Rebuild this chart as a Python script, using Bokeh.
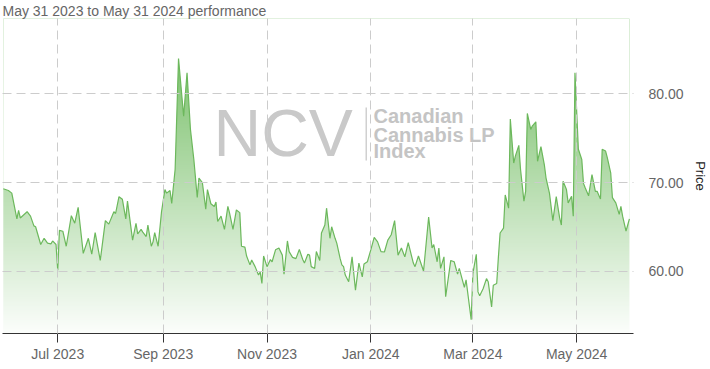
import numpy as np
import pandas as pd
from bokeh.plotting import figure
from bokeh.models import (Range1d, FixedTicker, Label, PrintfTickFormatter,
                          BoxAnnotation, DatetimeTickFormatter)
from bokeh.embed import file_html
from bokeh.resources import INLINE

# ---------------- data ----------------
base_date = "2023-05-31"
day_offsets = [
    -1, 2, 4, 7, 8, 9, 13, 15, 17, 18,
    21, 23, 25, 27, 28, 30, 31, 32, 34, 36,
    39, 41, 43, 46, 49, 51, 53, 56, 59, 61,
    64, 65, 67, 69, 71, 72, 75, 77, 78, 80,
    81, 83, 84, 86, 87, 88, 90, 92, 94, 95,
    97, 98, 100, 102, 105, 107, 109, 111, 113, 114,
    116, 118, 119, 121, 123, 124, 125, 127, 129, 131,
    132, 134, 136, 138, 139, 141, 142, 144, 145, 147,
    149, 150, 151, 152, 154, 156, 157, 159, 161, 163,
    164, 166, 167, 169, 171, 173, 175, 176, 178, 179,
    180, 182, 183, 185, 186, 188, 189, 191, 192, 194,
    195, 197, 198, 199, 200, 202, 204, 206, 208, 210,
    211, 213, 215, 217, 219, 221, 223, 225, 227, 229,
    231, 233, 235, 237, 240, 241, 243, 246, 249, 251,
    252, 254, 255, 256, 258, 259, 262, 264, 266, 267,
    270, 271, 274, 275, 277, 278, 279, 281, 283, 284,
    286, 287, 289, 290, 291, 293, 294, 296, 297, 299,
    300, 302, 303, 305, 306, 307, 309, 310, 312, 313,
    315, 317, 318, 320, 322, 324, 326, 327, 328, 330,
    331, 333, 334, 335, 337, 339, 340, 341, 343, 345,
    347, 348, 350, 351, 353, 354, 356, 357, 359, 361,
    362, 363, 365, 366, 367,
]
prices = [
    69.3, 69.1, 68.8, 65.9, 66.85, 66.0, 66.7, 66.2, 65.1, 65.0,
    63.0, 63.7, 63.15, 63.07, 63.4, 63.0, 60.1, 64.6, 64.5, 62.8,
    66.25, 65.4, 67.2, 62.0, 63.7, 61.9, 64.35, 61.2, 65.7, 65.3,
    66.7, 66.5, 68.4, 68.1, 65.9, 67.9, 63.5, 65.4, 64.2, 64.7,
    64.4, 63.9, 65.2, 62.8, 63.3, 64.35, 62.8, 66.7, 69.2, 68.8,
    69.1, 67.65, 71.5, 84.0, 77.5, 82.4, 76.0, 72.6, 68.3, 70.5,
    70.0, 67.0, 69.2, 67.6, 67.3, 67.8, 65.6, 66.2, 64.7, 67.3,
    66.55, 64.7, 66.9, 66.6, 62.8, 62.7, 61.7, 60.7, 61.25, 60.5,
    59.55, 59.9, 58.6, 61.7, 60.5, 61.3, 61.05, 62.4, 62.6, 61.8,
    59.66, 63.4, 62.2, 61.55, 61.4, 62.45, 61.3, 60.9, 61.9, 61.8,
    60.5, 60.3, 62.2, 61.2, 64.3, 65.2, 67.1, 63.7, 65.0, 63.7,
    63.15, 61.4, 60.7, 60.5, 59.55, 58.8, 61.6, 57.85, 60.9, 59.35,
    60.8, 61.05, 62.4, 63.8, 63.3, 62.2, 62.15, 63.5, 64.1, 65.7,
    61.8, 62.6, 61.6, 63.2, 60.9, 60.5, 61.7, 60.0, 66.1, 62.6,
    63.0, 61.05, 62.6, 60.3, 61.6, 57.1, 61.2, 61.05, 59.66, 60.3,
    58.15, 59.0, 54.5, 59.75, 61.9, 57.65, 57.2, 58.0, 59.15, 58.8,
    55.95, 58.4, 58.6, 61.6, 64.3, 64.85, 68.6, 67.1, 77.16, 72.2,
    73.0, 74.2, 71.5, 67.9, 69.0, 77.8, 76.0, 76.4, 76.85, 72.4,
    74.05, 72.0, 70.5, 68.8, 65.7, 68.4, 66.0, 65.2, 70.15, 69.2,
    67.7, 68.45, 66.2, 82.4, 73.75, 72.6, 69.9, 69.4, 68.5, 70.9,
    69.0, 69.0, 68.15, 73.75, 73.55, 72.8, 71.1, 68.3, 67.7, 66.4,
    67.3, 66.2, 64.5, 65.2, 65.9,
]
x_tick_dates = ["2023-07-01", "2023-09-01", "2023-11-01",
                "2024-01-01", "2024-03-01", "2024-05-01"]
x_tick_labels = ["Jul 2023", "Sep 2023", "Nov 2023",
                 "Jan 2024", "Mar 2024", "May 2024"]
y_ticks = [60, 70, 80]
title_text = "May 31 2023 to May 31 2024 performance"
y_label = "Price"
wm_big = "NCV"
wm_lines = ["Canadian", "Cannabis LP", "Index"]

assert len(day_offsets) == len(prices)

# ---------------- derived ----------------
DAY_MS = 86400000.0
base_ms = pd.Timestamp(base_date).value / 1e6
x_ms = np.array([base_ms + d * DAY_MS for d in day_offsets])
y = np.array(prices, dtype=float)
tick_ms = [int(pd.Timestamp(d).value // 10**6) for d in x_tick_dates]

Y_MIN, Y_MAX = 52.95, 88.52
X_START = base_ms - 1.46 * DAY_MS
X_END = base_ms + 369.4 * DAY_MS

FONT = "Liberation Sans"

p = figure(width=710, height=369, x_axis_type="datetime",
           y_axis_location="right",
           x_range=Range1d(X_START, X_END), y_range=Range1d(Y_MIN, Y_MAX),
           output_backend="svg", toolbar_location=None,
           min_border_left=2, min_border_top=16,
           min_border_right=72, min_border_bottom=36)
p.outline_line_color = None
p.background_fill_color = "white"
p.border_fill_color = "white"

# title above the frame
p.title.text = title_text
p.title.align = "left"
p.title.offset = 0
p.title.standoff = 0
p.title.text_font = FONT
p.title.text_font_size = "14px"
p.title.text_font_style = "normal"
p.title.text_color = "#666666"

# vertical gradient image under the line, masked above the line
H = 400
top_c = np.array([107, 185, 90], dtype=float)
bot_c = np.array([252, 254, 252], dtype=float)
img = np.empty((H, 1), dtype=np.uint32)
view = img.view(dtype=np.uint8).reshape((H, 1, 4))
for i in range(H):
    f = (H - 1 - i) / (H - 1)   # 0 at top row, 1 at bottom row
    c = top_c + f * (bot_c - top_c)
    view[i, 0, 0] = int(c[0])
    view[i, 0, 1] = int(c[1])
    view[i, 0, 2] = int(c[2])
    view[i, 0, 3] = 255
p.image_rgba(image=[img], x=x_ms[0], y=Y_MIN,
             dw=x_ms[-1] - x_ms[0], dh=Y_MAX - Y_MIN)
p.varea(x=x_ms, y1=y, y2=Y_MAX, fill_color="white")

# watermark (screen units relative to the plot frame, origin bottom-left)
p.add_layout(Label(x=211, y=200.5, x_units="screen", y_units="screen",
                   text=wm_big, text_font=FONT, text_font_size="66px",
                   text_color="#c9c9c9", text_baseline="middle"))
p.add_layout(BoxAnnotation(left=363, right=364.5, bottom=173, top=226,
                           left_units="screen", right_units="screen",
                           bottom_units="screen", top_units="screen",
                           fill_color="#d0d0d0", fill_alpha=1.0,
                           line_color=None))
for txt, yy in zip(wm_lines, [217.2, 198.8, 182.2]):
    p.add_layout(Label(x=371, y=yy, x_units="screen", y_units="screen",
                       text=txt, text_font=FONT, text_font_size="20px",
                       text_font_style="bold",
                       text_color="#c4c4c4", text_baseline="middle"))

p.line(x_ms, y, line_color="#6cb85c", line_width=1.2)

# x axis
xt = FixedTicker(ticks=tick_ms)
p.xaxis.ticker = xt
p.xgrid.ticker = xt
p.xaxis.formatter = DatetimeTickFormatter(months="%b %Y", days="%b %Y")
p.xaxis.major_label_overrides = {t: lab for t, lab in zip(tick_ms, x_tick_labels)}
p.xaxis.axis_line_color = "#333333"
p.xaxis.major_tick_line_color = "#333333"
p.xaxis.major_tick_out = 9
p.xaxis.major_tick_in = 0
p.xaxis.minor_tick_line_color = None
p.xaxis.minor_tick_out = 0
p.xaxis.major_label_standoff = 3
p.xaxis.major_label_text_font = FONT
p.xaxis.major_label_text_font_size = "14px"
p.xaxis.major_label_text_color = "#666666"

# y axis (right)
yt = FixedTicker(ticks=y_ticks)
p.yaxis.ticker = yt
p.ygrid.ticker = yt
p.yaxis.formatter = PrintfTickFormatter(format="%.2f")
p.yaxis.axis_line_color = None
p.yaxis.major_tick_line_color = None
p.yaxis.minor_tick_line_color = None
p.yaxis.major_tick_out = 0
p.yaxis.major_tick_in = 0
p.yaxis.minor_tick_out = 0
p.yaxis.major_label_standoff = 15
p.yaxis.major_label_text_font = FONT
p.yaxis.major_label_text_font_size = "14px"
p.yaxis.major_label_text_color = "#666666"
p.yaxis.axis_label = y_label
p.yaxis.axis_label_standoff = 6
p.yaxis.axis_label_text_font = FONT
p.yaxis.axis_label_text_font_size = "13px"
p.yaxis.axis_label_text_font_style = "normal"
p.yaxis.axis_label_text_color = "#222222"

for g in (p.xgrid, p.ygrid):
    g.grid_line_color = "#cccccc"
    g.grid_line_dash = "9 5"
    g.grid_line_width = 1
    g.level = "overlay"

open("out.html", "w").write(file_html(p, INLINE))
